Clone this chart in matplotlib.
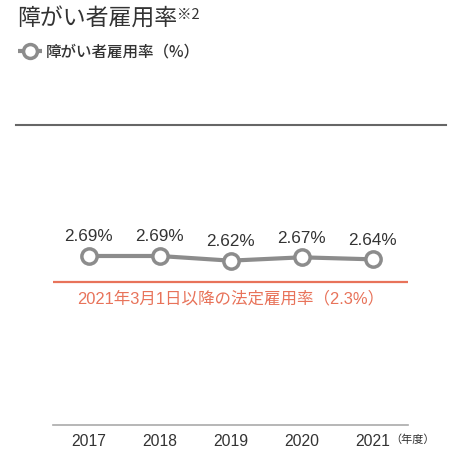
import matplotlib
matplotlib.use("Agg")
import matplotlib.pyplot as plt
from matplotlib.lines import Line2D

years = ["2017", "2018", "2019", "2020", "2021"]
rates = [2.69, 2.69, 2.62, 2.67, 2.64]
legal_rate = 2.3
title = "障がい者雇用率"
title_note = "※2"
legend_label = "障がい者雇用率（%）"
legal_label = "2021年3月1日以降の法定雇用率（2.3%）"
unit_label = "（年度）"

FAM = ["Liberation Sans", "Noto Sans CJK JP", "DejaVu Sans"]
JP = ["Noto Sans CJK JP", "DejaVu Sans"]
plt.rcParams['font.family'] = FAM

W, H = 463, 464
fig = plt.figure(figsize=(W / 100, H / 100), dpi=100)

def fx(px):
    return px / W

def fy(py):
    return 1 - py / H

# axes from x=53..408 px, y=126..426 px
ax = fig.add_axes([fx(53), fy(426), fx(408) - fx(53), fy(126) - fy(426)])
ax.set_xlim(-0.5, 4.5)
ax.set_ylim(0.156, 4.654)

grey = "#8c8c8c"
red = "#e8735a"
dark = "#333333"

xs = list(range(len(years)))
ax.axhline(legal_rate, color=red, lw=1.6, zorder=1)
ax.plot(xs, rates, color=grey, lw=3, marker="o", ms=11, mfc="white",
        mec=grey, mew=2.5, zorder=3, solid_capstyle="butt")
for x, v in zip(xs, rates):
    ax.annotate(f"{v:.2f}%", (x, v), xytext=(0, 9), textcoords="offset points",
                ha="center", va="bottom", fontsize=12.3, color=dark)
ax.annotate(legal_label, (2, legal_rate), xytext=(0, -11), textcoords="offset points",
            ha="center", va="center", fontsize=11.9, color=red, family=FAM)

for s in ["top", "left", "right"]:
    ax.spines[s].set_visible(False)
ax.spines["bottom"].set_color("#aaaaaa")
ax.spines["bottom"].set_linewidth(1.2)
ax.set_yticks([])
ax.set_xticks(xs)
ax.set_xticklabels(years, fontsize=11.3, color=dark)
ax.tick_params(axis="x", length=0, pad=6)

# top rule
fig.add_artist(Line2D([fx(16), fx(446)], [fy(126), fy(126)], color="#666666", lw=1.5))

# title
fig.text(fx(17), fy(19), title, fontsize=16.5, color=dark, family=JP, va="center", ha="left")
fig.text(fx(177), fy(15), title_note, fontsize=10.5, color=dark, family=JP, va="center", ha="left")

# legend
fig.add_artist(Line2D([fx(18), fx(42)], [fy(52), fy(52)], color=grey, lw=3,
                      solid_capstyle="butt"))
fig.add_artist(Line2D([fx(30)], [fy(52)], color=grey, marker="o", ms=10,
                      mfc="white", mec=grey, mew=2.5, lw=0))
fig.text(fx(46), fy(52), legend_label, fontsize=11.2, color=dark, family=JP,
         va="center", ha="left", weight="medium")

# unit
fig.text(fx(390), fy(440), unit_label, fontsize=8, color=dark, family=JP,
         va="center", ha="left")

fig.savefig("out.png", dpi=100, facecolor="white")
